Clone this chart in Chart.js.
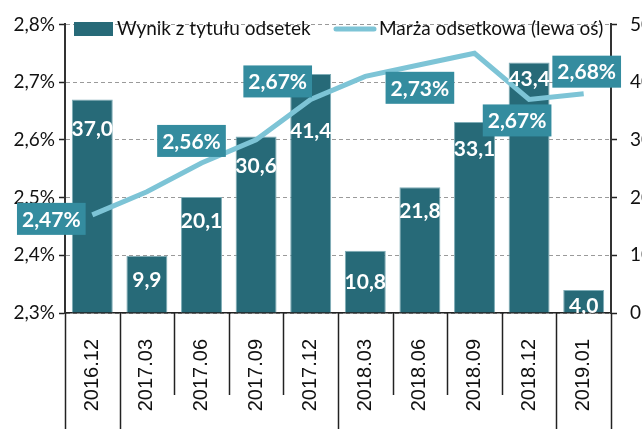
<!DOCTYPE html>
<html>
<head>
<meta charset="utf-8">
<script src="https://cdn.jsdelivr.net/npm/chart.js@4.4.1/dist/chart.umd.min.js"></script>
<style>
  html, body { margin: 0; padding: 0; overflow: hidden; background: #fff; }
  #wrap { width: 642px; height: 429px; overflow: hidden; }
</style>
</head>
<body>
<div id="wrap"><canvas id="chart" width="670" height="470"></canvas></div>
<script>
const categories = ['2016.12', '2017.03', '2017.06', '2017.09', '2017.12', '2018.03', '2018.06', '2018.09', '2018.12', '2019.01'];
const interestIncome = [37.0, 9.9, 20.1, 30.6, 41.4, 10.8, 21.8, 33.1, 43.4, 4.0];
const interestMargin = [2.47, 2.51, 2.56, 2.60, 2.67, 2.71, 2.73, 2.75, 2.67, 2.68];
const marginTicks = [2.3, 2.4, 2.5, 2.6, 2.7, 2.8];
const incomeTicks = [0, 10, 20, 30, 40, 50];
const seriesNames = ['Wynik z tytułu odsetek', 'Marża odsetkowa (lewa oś)'];

// where the value labels sit (px), not data
const barLabelShift = [30, 24, 24, 30, 57, 32, 24, 27, 17, 16];
const marginLabelShift = [[-41, 4], null, [-10, -22], null, [-33, -18], null, [0, 23], null, [-12, 21], [3, -22]];

const BAR = '#276a78';
const LINE = '#7dc4d6';
const BOX = '#348c9f';
const LABELFONT = 'Lato, sans-serif';
const CATFONT = "'Liberation Sans', Arial, sans-serif";

const comma = (v, d) => v.toFixed(d).replace('.', ',');

const valueLabels = {
  id: 'valueLabels',
  afterDatasetsDraw(chart) {
    const { ctx } = chart;
    ctx.save();
    ctx.textAlign = 'center';
    ctx.textBaseline = 'middle';
    ctx.font = 'bold 21px ' + LABELFONT;

    const bars = chart.getDatasetMeta(0).data;
    bars.forEach((bar, i) => {
      ctx.fillStyle = '#fff';
      ctx.fillText(comma(interestIncome[i], 1), bar.x, bar.y + barLabelShift[i]);
    });

    const pts = chart.getDatasetMeta(1).data;
    pts.forEach((pt, i) => {
      const s = marginLabelShift[i];
      if (!s) return;
      const txt = comma(interestMargin[i], 2) + '%';
      const w = ctx.measureText(txt).width + 10;
      const h = 32;
      const cx = pt.x + s[0], cy = pt.y + s[1];
      ctx.fillStyle = BOX;
      ctx.fillRect(cx - w / 2, cy - h / 2, w, h);
      ctx.fillStyle = '#fff';
      ctx.fillText(txt, cx, cy + 1);
    });
    ctx.restore();
  }
};

const axisExtras = {
  id: 'axisExtras',
  afterDraw(chart) {
    const { ctx, chartArea } = chart;
    const x = chart.scales.x;
    const n = categories.length;
    const step = (x.right - x.left) / n;
    ctx.save();
    ctx.strokeStyle = '#222';
    ctx.lineWidth = 1.5;
    for (let i = 0; i <= n; i++) {
      const px = Math.round(x.left + i * step) + 0.5;
      const edge = i === 0 || i === n || categories[i].slice(0, 4) !== categories[i - 1].slice(0, 4);
      ctx.beginPath();
      ctx.moveTo(px, chartArea.bottom);
      ctx.lineTo(px, edge ? chart.height : chartArea.bottom + 82);
      ctx.stroke();
    }

    // legend inside the plot
    ctx.font = '19px ' + LABELFONT;
    ctx.textBaseline = 'middle';
    ctx.textAlign = 'left';
    const ly = 29;
    ctx.fillStyle = BAR;
    ctx.fillRect(74, ly - 7, 39, 14);
    ctx.fillStyle = '#111';
    ctx.fillText(seriesNames[0], 117, ly);
    ctx.strokeStyle = LINE;
    ctx.lineWidth = 5;
    ctx.lineCap = 'round';
    ctx.beginPath();
    ctx.moveTo(336, ly);
    ctx.lineTo(374, ly);
    ctx.stroke();
    ctx.fillText(seriesNames[1], 379, ly);
    ctx.restore();
  }
};

new Chart(document.getElementById('chart'), {
  data: {
    labels: categories,
    datasets: [
      {
        type: 'bar',
        label: seriesNames[0],
        data: interestIncome,
        yAxisID: 'yRight',
        backgroundColor: BAR,
        borderColor: '#7fadb7',
        borderWidth: 1,
        categoryPercentage: 1,
        barPercentage: 0.75,
        order: 2,
      },
      {
        type: 'line',
        label: seriesNames[1],
        data: interestMargin,
        yAxisID: 'yLeft',
        borderColor: LINE,
        borderWidth: 5,
        pointRadius: 0,
        tension: 0,
        order: 1,
      },
    ],
  },
  options: {
    responsive: false,
    animation: false,
    layout: { padding: { top: 19, left: 0, right: 0, bottom: 0 } },
    plugins: {
      legend: { display: false },
      tooltip: { enabled: false },
    },
    scales: {
      x: {
        offset: true,
        grid: { display: false },
        border: { color: '#222', width: 1.5 },
        ticks: {
          minRotation: 90,
          maxRotation: 90,
          padding: 18,
          color: '#111',
          font: { family: CATFONT, size: 20 },
        },
        afterFit(scale) { scale.height = 157; },
      },
      yLeft: {
        position: 'left',
        min: 2.3,
        max: 2.8,
        afterBuildTicks(scale) { scale.ticks = marginTicks.map((v) => ({ value: v })); },
        grid: {
          color: '#9a9a9a',
          lineWidth: 1,
          tickLength: 6,
          tickColor: '#222',
          tickWidth: 1.5,
        },
        border: { color: '#333', width: 2, dash: [4, 3] },
        ticks: {
          padding: 4,
          color: '#111',
          font: { family: LABELFONT, size: 19 },
          callback: (v) => comma(v, 1) + '%',
        },
        afterFit(scale) { scale.width = 65; },
      },
      yRight: {
        position: 'right',
        min: 0,
        max: 50,
        afterBuildTicks(scale) { scale.ticks = incomeTicks.map((v) => ({ value: v })); },
        grid: {
          drawOnChartArea: false,
          tickLength: 6,
          tickColor: '#222',
          tickWidth: 1.5,
        },
        border: { color: '#333', width: 2 },
        ticks: {
          padding: 13,
          color: '#111',
          font: { family: LABELFONT, size: 19 },
        },
        afterFit(scale) { scale.width = 59; },
      },
    },
  },
  plugins: [valueLabels, axisExtras],
});
</script>
</body>
</html>
